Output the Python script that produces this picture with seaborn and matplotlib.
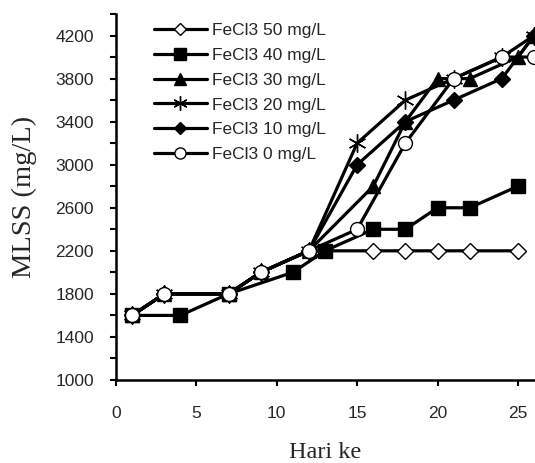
import pandas as pd
import matplotlib
matplotlib.use("Agg")
import matplotlib.pyplot as plt
import seaborn as sns

sns.set_style("white")
plt.rcParams['font.family'] = ['Liberation Sans', 'DejaVu Sans']

# MLSS (mg/L) per day for each FeCl3 dose
labels = ["FeCl3 50 mg/L", "FeCl3 40 mg/L", "FeCl3 30 mg/L",
          "FeCl3 20 mg/L", "FeCl3 10 mg/L", "FeCl3 0 mg/L"]

days_50 = [1, 3, 7, 9, 12, 16, 18, 20, 22, 25]
mlss_50 = [1600, 1800, 1800, 2000, 2200, 2200, 2200, 2200, 2200, 2200]

days_40 = [1, 4, 7, 11, 13, 16, 18, 20, 22, 25]
mlss_40 = [1600, 1600, 1800, 2000, 2200, 2400, 2400, 2600, 2600, 2800]

days_30 = [1, 3, 7, 9, 12, 16, 18, 20, 22, 25, 26]
mlss_30 = [1600, 1800, 1800, 2000, 2200, 2800, 3400, 3800, 3800, 4000, 4200]

days_20 = [1, 3, 7, 9, 12, 15, 18, 21, 24, 26]
mlss_20 = [1600, 1800, 1800, 2000, 2200, 3200, 3600, 3800, 4000, 4200]

days_10 = [1, 3, 7, 9, 12, 15, 18, 21, 24, 26]
mlss_10 = [1600, 1800, 1800, 2000, 2200, 3000, 3400, 3600, 3800, 4200]

days_0 = [1, 3, 7, 9, 12, 15, 18, 21, 24, 26]
mlss_0 = [1600, 1800, 1800, 2000, 2200, 2400, 3200, 3800, 4000, 4000]

series = [(days_50, mlss_50), (days_40, mlss_40), (days_30, mlss_30),
          (days_20, mlss_20), (days_10, mlss_10), (days_0, mlss_0)]

# marker, size, face colour
styles = [("D", 8, "white"), ("s", 10, "black"), ("^", 10, "black"),
          ((6, 2, 0), 13, "black"), ("D", 8, "black"), ("o", 10, "white")]

fig = plt.figure(figsize=(5.35, 4.63), dpi=100)
ax = fig.add_axes([116 / 535, 1 - 380 / 463, 418 / 535, 366 / 463])

for lab, (d, v), (m, ms, fc) in zip(labels, series, styles):
    df = pd.DataFrame({"day": d, "mlss": v})
    sns.lineplot(data=df, x="day", y="mlss", ax=ax, color="black", lw=2.3,
                 marker=m, ms=ms, mfc=fc, mec="black", mew=1.0, label=lab,
                 clip_on=False)

ax.set_xlim(0, 26)
ax.set_ylim(1000, 4400)
ax.set_xticks(range(0, 26, 5))
ax.set_yticks(range(1000, 4201, 400))
ax.set_yticks(range(1200, 4401, 400), minor=True)

for side in ["top", "right"]:
    ax.spines[side].set_visible(False)
for side in ["left", "bottom"]:
    ax.spines[side].set_linewidth(1.8)
    ax.spines[side].set_color("black")

ax.tick_params(axis="both", which="both", direction="out", color="black",
               width=1.5, length=4, labelsize=12.5)
ax.tick_params(axis="x", pad=15, bottom=True)
ax.tick_params(axis="y", pad=12, left=True, which="both")

ax.set_xlabel("Hari ke", family="Liberation Serif", fontsize=17.5, labelpad=15)
ax.set_ylabel("MLSS (mg/L)", family="Liberation Serif", fontsize=20.5, labelpad=13)

ax.legend(loc="upper left", bbox_to_anchor=(0.09, 0.976), frameon=False,
          fontsize=12.5, handlelength=3.05, handletextpad=0.3, labelspacing=0.56,
          borderaxespad=0, borderpad=0, markerscale=0.8)

fig.savefig("out.png", dpi=100)
